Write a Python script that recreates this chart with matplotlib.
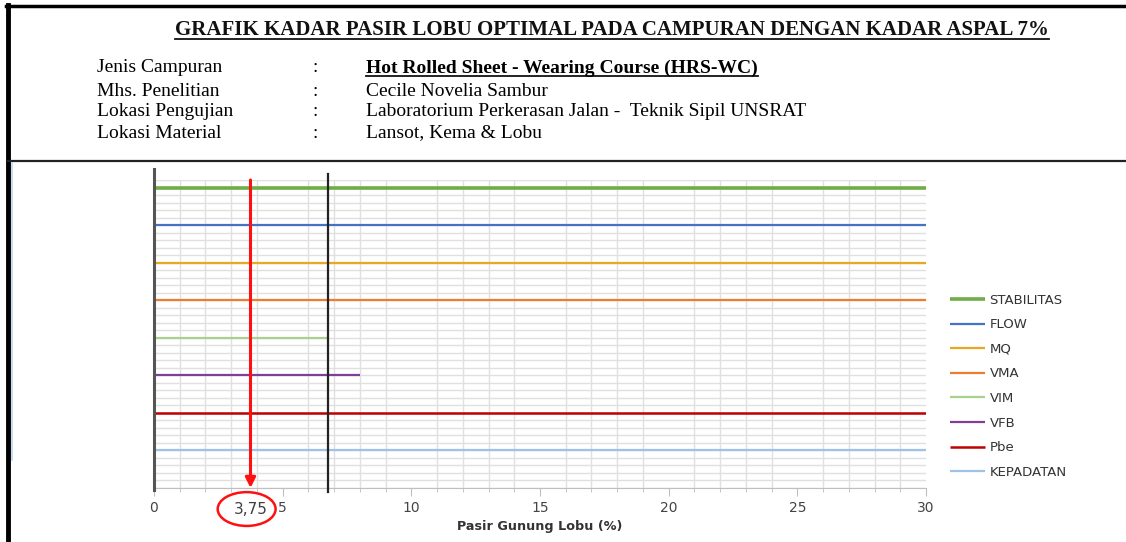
import matplotlib
matplotlib.use("Agg")
import matplotlib.pyplot as plt
from matplotlib.lines import Line2D
from matplotlib.patches import Ellipse

# series drawn as flat lines across the sand-content axis
names = ["STABILITAS", "FLOW", "MQ", "VMA", "VIM", "VFB", "Pbe", "KEPADATAN"]
levels = [40, 35, 30, 25, 20, 15, 10, 5]
x_start = [0, 0, 0, 0, 0, 0, 0, 0]
x_end = [30, 30, 30, 30, 6.75, 8, 30, 30]
colors = ["#70ad47", "#4472c4", "#e8a820", "#ed7d31", "#a9d18e", "#7f3f98", "#c00000", "#9dc3e6"]
widths = [2.6, 1.6, 1.6, 1.6, 1.6, 1.6, 1.8, 1.6]

# vertical reference lines
left_x, left_y = [0, 0], [-0.3, 42.4]
limit_x, limit_y = [6.75, 6.75], [-0.5, 41.8]
optimum = 3.75
xticks = [0, 5, 10, 15, 20, 25, 30]

title = "GRAFIK KADAR PASIR LOBU OPTIMAL PADA CAMPURAN DENGAN KADAR ASPAL 7%"
info_labels = ["Jenis Campuran", "Mhs. Penelitian", "Lokasi Pengujian", "Lokasi Material"]
info_values = ["Hot Rolled Sheet - Wearing Course (HRS-WC)", "Cecile Novelia Sambur",
               "Laboratorium Perkerasan Jalan -  Teknik Sipil UNSRAT", "Lansot, Kema & Lobu"]

W, H = 1126, 542
fig = plt.figure(figsize=(W / 100, H / 100), dpi=100)
fig.patch.set_facecolor("white")


def fx(px):
    return px / W


def fy(py):
    return 1 - py / H


# page frame and header separator
fig.add_artist(Line2D([fx(8), fx(8)], [fy(5), fy(542)], color="black", lw=3.5))
fig.add_artist(Line2D([fx(6), fx(1126)], [fy(6), fy(6)], color="black", lw=2.5))
fig.add_artist(Line2D([fx(8), fx(1126)], [fy(161), fy(161)], color="#222222", lw=1.6))
fig.add_artist(Line2D([fx(11.5), fx(11.5)], [fy(163), fy(460)], color="#bcd6ee", lw=1.2))

serif = "Liberation Serif"
texts_to_underline = []
t = fig.text(fx(612), fy(30), title, family=serif, weight="bold", fontsize=15,
             ha="center", va="center", color="#111111")
texts_to_underline.append(t)

rows_y = [68, 91, 112, 133]
for i, (lab, val) in enumerate(zip(info_labels, info_values)):
    fig.text(fx(97), fy(rows_y[i]), lab, family=serif, fontsize=14, ha="left", va="center")
    fig.text(fx(313), fy(rows_y[i]), ":", family=serif, fontsize=14, ha="left", va="center")
    v = fig.text(fx(366), fy(rows_y[i]), val, family=serif, fontsize=14, ha="left", va="center",
                 weight="bold" if i == 0 else "normal")
    if i == 0:
        texts_to_underline.append(v)

# chart area
ax = fig.add_axes([fx(154), fy(488), fx(926 - 154), (488 - 180) / H])
ax.set_xlim(0, 30)
ax.set_ylim(0, 41)

handles = []
for name, lvl, x0, x1, c, lw in zip(names, levels, x_start, x_end, colors, widths):
    h, = ax.plot([x0, x1], [lvl, lvl], color=c, lw=lw, label=name, solid_capstyle="butt", zorder=3)
    handles.append(h)

ax.plot(left_x, left_y, color="#555555", lw=2.2, clip_on=False, zorder=4)
ax.plot(limit_x, limit_y, color="#222222", lw=1.6, clip_on=False, zorder=4)

ax.annotate("", xy=(optimum, 0), xytext=(optimum, 41),
            arrowprops=dict(arrowstyle="-|>,head_length=0.6,head_width=0.3", color="#ff1010",
                            lw=2.2, shrinkA=0, shrinkB=0), zorder=5)

ax.set_xticks(xticks)
ax.set_xticks(range(0, 31), minor=True)
ax.set_yticks(range(0, 42), minor=True)
ax.set_yticks([])
ax.grid(which="minor", color="#e0e0e0", lw=1.0)
ax.set_axisbelow(True)
for s in ["top", "right", "left"]:
    ax.spines[s].set_visible(False)
ax.spines["bottom"].set_color("#bfbfbf")
ax.tick_params(axis="x", which="major", length=6, color="#bfbfbf", labelsize=10,
               labelcolor="#444444", pad=3)
ax.tick_params(axis="x", which="minor", length=3, color="#bfbfbf")
ax.tick_params(axis="y", which="both", length=0)
ax.set_xlabel("Pasir Gunung Lobu (%)", fontsize=9.2, weight="bold", color="#333333", labelpad=4)

# highlighted optimum value below the axis
ax.text(optimum, -2.8, "3,75", ha="center", va="center", fontsize=11, color="#404040",
        clip_on=False)
ax.add_patch(Ellipse((optimum - 0.15, -2.8), width=2.25, height=4.5, fill=False,
                     edgecolor="#ff1010", lw=1.8, clip_on=False))

fig.legend(handles=handles, loc="upper left", bbox_to_anchor=(fx(943), fy(287)),
           frameon=False, fontsize=9.5, handlelength=2.65, handletextpad=0.38,
           labelspacing=0.88, borderpad=0, labelcolor="#333333")

# underline the emphasised header texts
fig.canvas.draw()
r = fig.canvas.get_renderer()
for tx in texts_to_underline:
    bb = tx.get_window_extent(r)
    fig.add_artist(Line2D([bb.x0 / W, bb.x1 / W], [(bb.y0 + 1) / H, (bb.y0 + 1) / H],
                          color="#111111", lw=1.3))

fig.savefig("out.png", dpi=100)
